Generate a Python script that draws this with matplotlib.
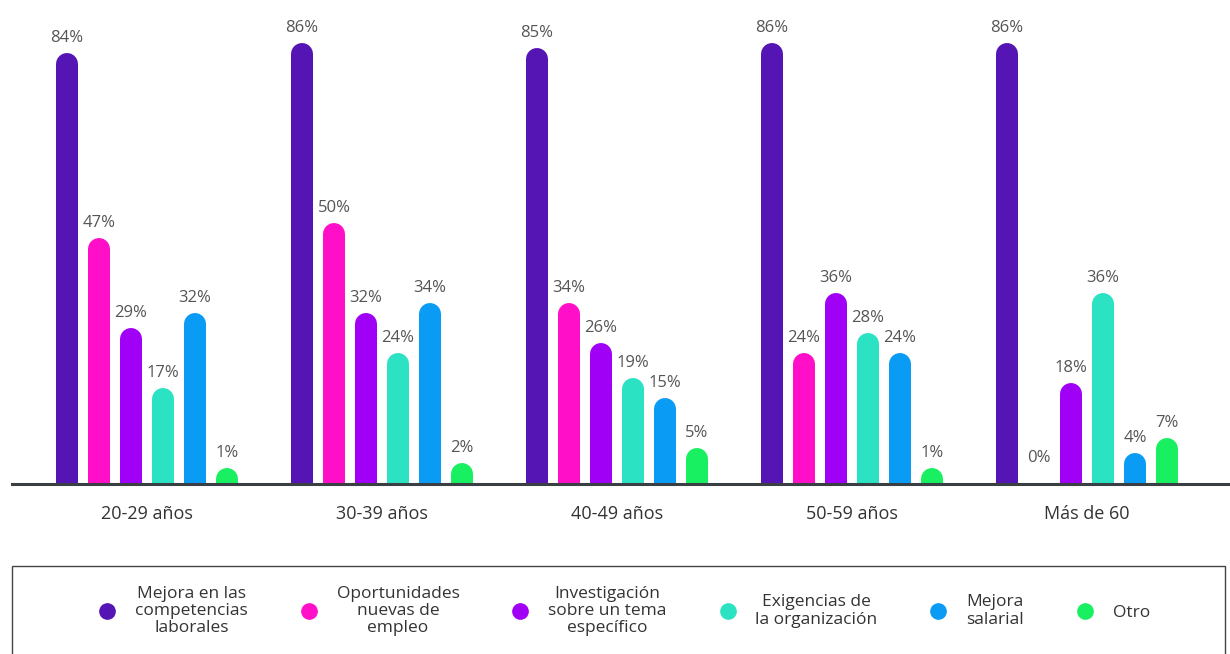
import matplotlib
matplotlib.use("Agg")
import matplotlib.pyplot as plt
from matplotlib.lines import Line2D
from matplotlib.patches import Rectangle
import numpy as np

plt.rcParams['font.family'] = ['Open Sans', 'DejaVu Sans']

groups = ["20-29 años", "30-39 años", "40-49 años", "50-59 años", "Más de 60"]
series_names = [
    "Mejora en las\ncompetencias\nlaborales",
    "Oportunidades\nnuevas de\nempleo",
    "Investigación\nsobre un tema\nespecífico",
    "Exigencias de\nla organización",
    "Mejora\nsalarial",
    "Otro",
]
mejora_competencias = [84, 86, 85, 86, 86]
oportunidades = [47, 50, 34, 24, 0]
investigacion = [29, 32, 26, 36, 18]
exigencias = [17, 24, 19, 28, 36]
mejora_salarial = [32, 34, 15, 24, 4]
otro = [1, 2, 5, 1, 7]
series_values = [mejora_competencias, oportunidades, investigacion,
                 exigencias, mejora_salarial, otro]
colors = ["#5514B4", "#FF10C8", "#A000F5", "#2BE3C3", "#0A9BF5", "#18F062"]

W, H, DPI = 1230, 654, 100
fig = plt.figure(figsize=(W / DPI, H / DPI), dpi=DPI)
base_px = 484
ax = fig.add_axes([12 / W, 1 - base_px / H, 1 - 12 / W, base_px / H])

px_per_unit_x = 235.0
first_center_px = 147
ax.set_xlim(-(first_center_px - 12) / px_per_unit_x,
            4 + (W - (first_center_px + 4 * px_per_unit_x)) / px_per_unit_x)
px_per_pct = 5.0
ax.set_ylim(0, base_px / px_per_pct)

bar_px = 22
step = 32 / px_per_unit_x
lw_pt = bar_px * 72 / DPI
x = np.arange(len(groups))
n = len(series_values)
for j, (vals, c) in enumerate(zip(series_values, colors)):
    xs = x + (j - (n - 1) / 2) * step
    for xi, v in zip(xs, vals):
        if v > 0:
            ax.plot([xi, xi], [0, v], color=c, lw=lw_pt,
                    solid_capstyle='round', zorder=2)
        ax.annotate(f"{v}%", (xi, v), xytext=(0, 13),
                    textcoords='offset points', ha='center', va='bottom',
                    fontsize=12, color='#555555')

for s in ['top', 'right', 'left']:
    ax.spines[s].set_visible(False)
ax.spines['bottom'].set_color('#3a3f44')
ax.spines['bottom'].set_linewidth(2.2)
ax.spines['bottom'].set_zorder(5)
ax.set_yticks([])
ax.set_xticks(x)
ax.set_xticklabels(groups, fontsize=13, color='#333333')
ax.tick_params(axis='x', length=0, pad=15)

# legend frame (extends past the bottom edge, as in the reference)
fig.patches.append(Rectangle((12 / W, -0.05), 1213 / W, 1 - 566 / H + 0.05,
                             transform=fig.transFigure, fill=False,
                             edgecolor='#444444', linewidth=1.0))

handles = [Line2D([], [], marker='o', linestyle='', markersize=11,
                  color=c) for c in colors]
leg = fig.legend(handles, series_names, loc='center left',
                 bbox_to_anchor=(90 / W, 1 - 611 / H, 1060 / W, 0.0),
                 mode='expand', ncol=6, frameon=False,
                 fontsize=12.5, borderpad=0, handletextpad=0.6,
                 columnspacing=1.0, labelspacing=0.2, borderaxespad=0)
for t in leg.get_texts():
    t.set_multialignment('center')
    t.set_color('#333333')
    t.set_linespacing(1.12)

fig.savefig("out.png", dpi=DPI)
